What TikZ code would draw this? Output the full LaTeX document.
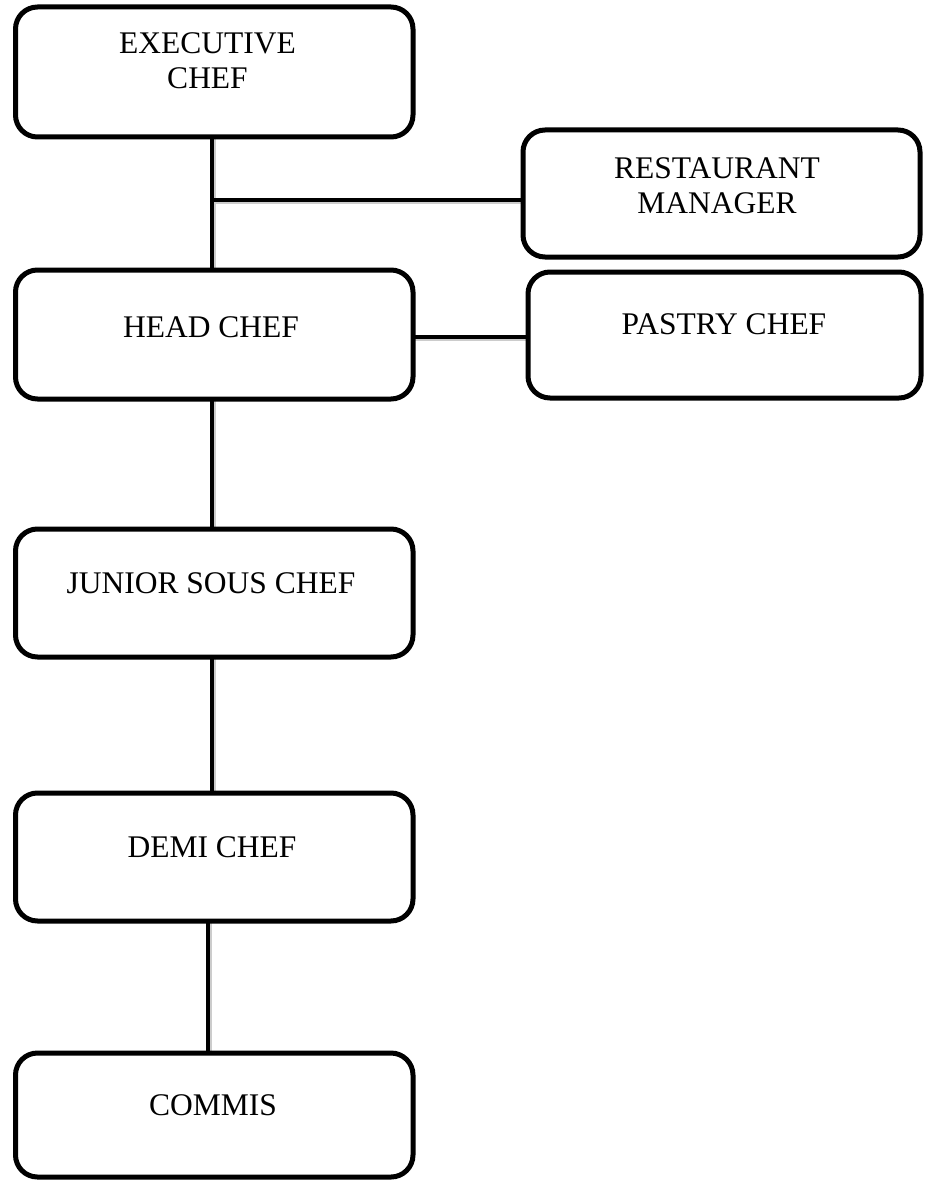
\documentclass[tikz,border=0pt]{standalone}
\usepackage{fontspec}
\setmainfont{Liberation Serif}
\usetikzlibrary{calc}
\tikzset{
  box/.style={draw=black, line width=5pt, rounded corners=22pt, fill=white,
    outer sep=0pt, inner sep=0pt},
  lbl/.style={anchor=north, inner sep=0pt, align=center,
    font=\fontsize{31.5}{35}\selectfont},
  conn/.style={draw=black, line width=4.5pt},
  shade/.style={draw=black!20, line width=4.5pt}
}
\begin{document}
\begin{tikzpicture}[x=1pt,y=-1pt]
\useasboundingbox (0,0) rectangle (925,1180);
% connector shadows
\coordinate (j) at (212,200);
\begin{scope}[transform canvas={shift={(1.8pt,-1.8pt)}}]
  \draw[shade] (212,137) -- (212,270);
  \draw[shade] (j) -- (523,200);
  \draw[shade] (413,337) -- (528,337);
  \draw[shade] (212,399) -- (212,529);
  \draw[shade] (212,657) -- (212,793);
  \draw[shade] (208,921) -- (208,1053);
\end{scope}
% boxes
\node[box, minimum width=397.5pt, minimum height=130pt] (exec)   at (214.25,72) {};
\node[box, minimum width=397pt,   minimum height=127pt] (rm)     at (721.5,193.5) {};
\node[box, minimum width=397.5pt, minimum height=129pt] (head)   at (214.25,334.5) {};
\node[box, minimum width=393pt,   minimum height=126pt] (pastry) at (724.5,335) {};
\node[box, minimum width=397.5pt, minimum height=128pt] (junior) at (214.25,593) {};
\node[box, minimum width=397.5pt, minimum height=128pt] (demi)   at (214.25,857) {};
\node[box, minimum width=397.5pt, minimum height=124pt] (commis) at (214.25,1115) {};
% labels
\node[lbl] (texec)   at (207.5,32)  {EXECUTIVE\\CHEF};
\node[lbl] (trm)     at (717,157)   {RESTAURANT\\MANAGER};
\node[lbl] (thead)   at (211,316)   {HEAD CHEF};
\node[lbl] (tpastry) at (724,313)   {PASTRY CHEF};
\node[lbl] (tjunior) at (211,572)   {JUNIOR SOUS CHEF};
\node[lbl] (tdemi)   at (212,836)   {DEMI CHEF};
\node[lbl] (tcommis) at (213,1094)  {COMMIS};
% connectors
\draw[conn] ([xshift=-2.25pt]exec.south) -- ([xshift=-2.25pt]head.north);
\draw[conn] (j) -- (j -| rm.west);
\draw[conn] ([yshift=-2.5pt]head.east) -- ([yshift=-2.5pt]head.east -| pastry.west);
\draw[conn] ([xshift=-2.25pt]head.south) -- ([xshift=-2.25pt]junior.north);
\draw[conn] ([xshift=-2.25pt]junior.south) -- ([xshift=-2.25pt]demi.north);
\draw[conn] ([xshift=-6.25pt]demi.south) -- ([xshift=-6.25pt]commis.north);
\end{tikzpicture}
\end{document}
